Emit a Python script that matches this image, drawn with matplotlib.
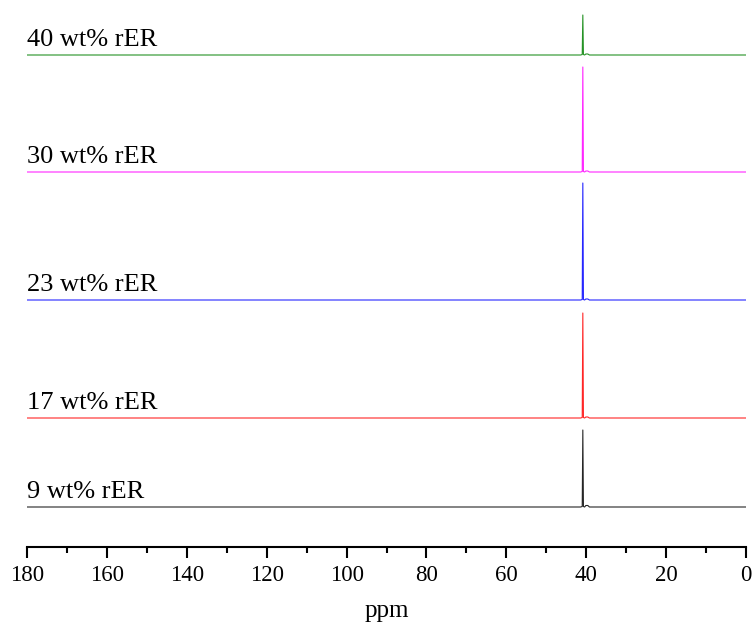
import matplotlib
matplotlib.use("Agg")
import matplotlib.pyplot as plt
from matplotlib.ticker import MultipleLocator

# ---------- Dados ----------
ppm = [180, 41.4, 41.0, 40.85, 40.7, 40.4, 40.1, 39.6, 39.2, 0]

int_9 = [0, 0, 0.5, 77, 0.5, 0, 1.5, 1.5, 0, 0]
int_17 = [0, 0, 0.5, 105, 0.5, 0, 1, 1, 0, 0]
int_23 = [0, 0, 0.5, 117, 0.5, 0, 1, 1, 0, 0]
int_30 = [0, 0, 0.5, 105, 0.5, 0, 1, 1, 0, 0]
int_40 = [0, 0, 0.5, 40, 0.5, 0, 1, 1, 0, 0]

rotulos = ["9 wt% rER", "17 wt% rER", "23 wt% rER", "30 wt% rER", "40 wt% rER"]
deslocamentos = [40, 129, 247, 375, 492]
cores = ["#000000", "#FF0000", "#0000FF", "#FF00FF", "#008000"]

# ---------- Figura ----------
plt.rcParams["font.family"] = ["Liberation Serif", "DejaVu Serif"]

fig = plt.figure(figsize=(7.56, 6.32), dpi=100)
ax = fig.add_axes([27 / 756, 85 / 632, 719 / 756, 542 / 632])

espectros = [int_9, int_17, int_23, int_30, int_40]
for inten, off, cor, rot in zip(espectros, deslocamentos, cores, rotulos):
    ax.plot(ppm, [v + off for v in inten], color=cor, lw=0.8, alpha=0.85)
    ax.text(180, off + 4, rot, ha="left", va="bottom", fontsize=19)

ax.set_xlim(180, 0)
ax.set_ylim(0, 542)
ax.xaxis.set_major_locator(MultipleLocator(20))
ax.xaxis.set_minor_locator(MultipleLocator(10))
ax.set_yticks([])
for lado in ["left", "right", "top"]:
    ax.spines[lado].set_visible(False)
ax.spines["bottom"].set_linewidth(1.5)
ax.tick_params(axis="x", which="major", direction="out", length=8, width=1.5,
               labelsize=16.5, pad=5)
ax.tick_params(axis="x", which="minor", direction="out", length=4.5, width=1.5)
ax.set_xlabel("ppm", fontsize=18, labelpad=10)

fig.savefig("out.png", dpi=100)
